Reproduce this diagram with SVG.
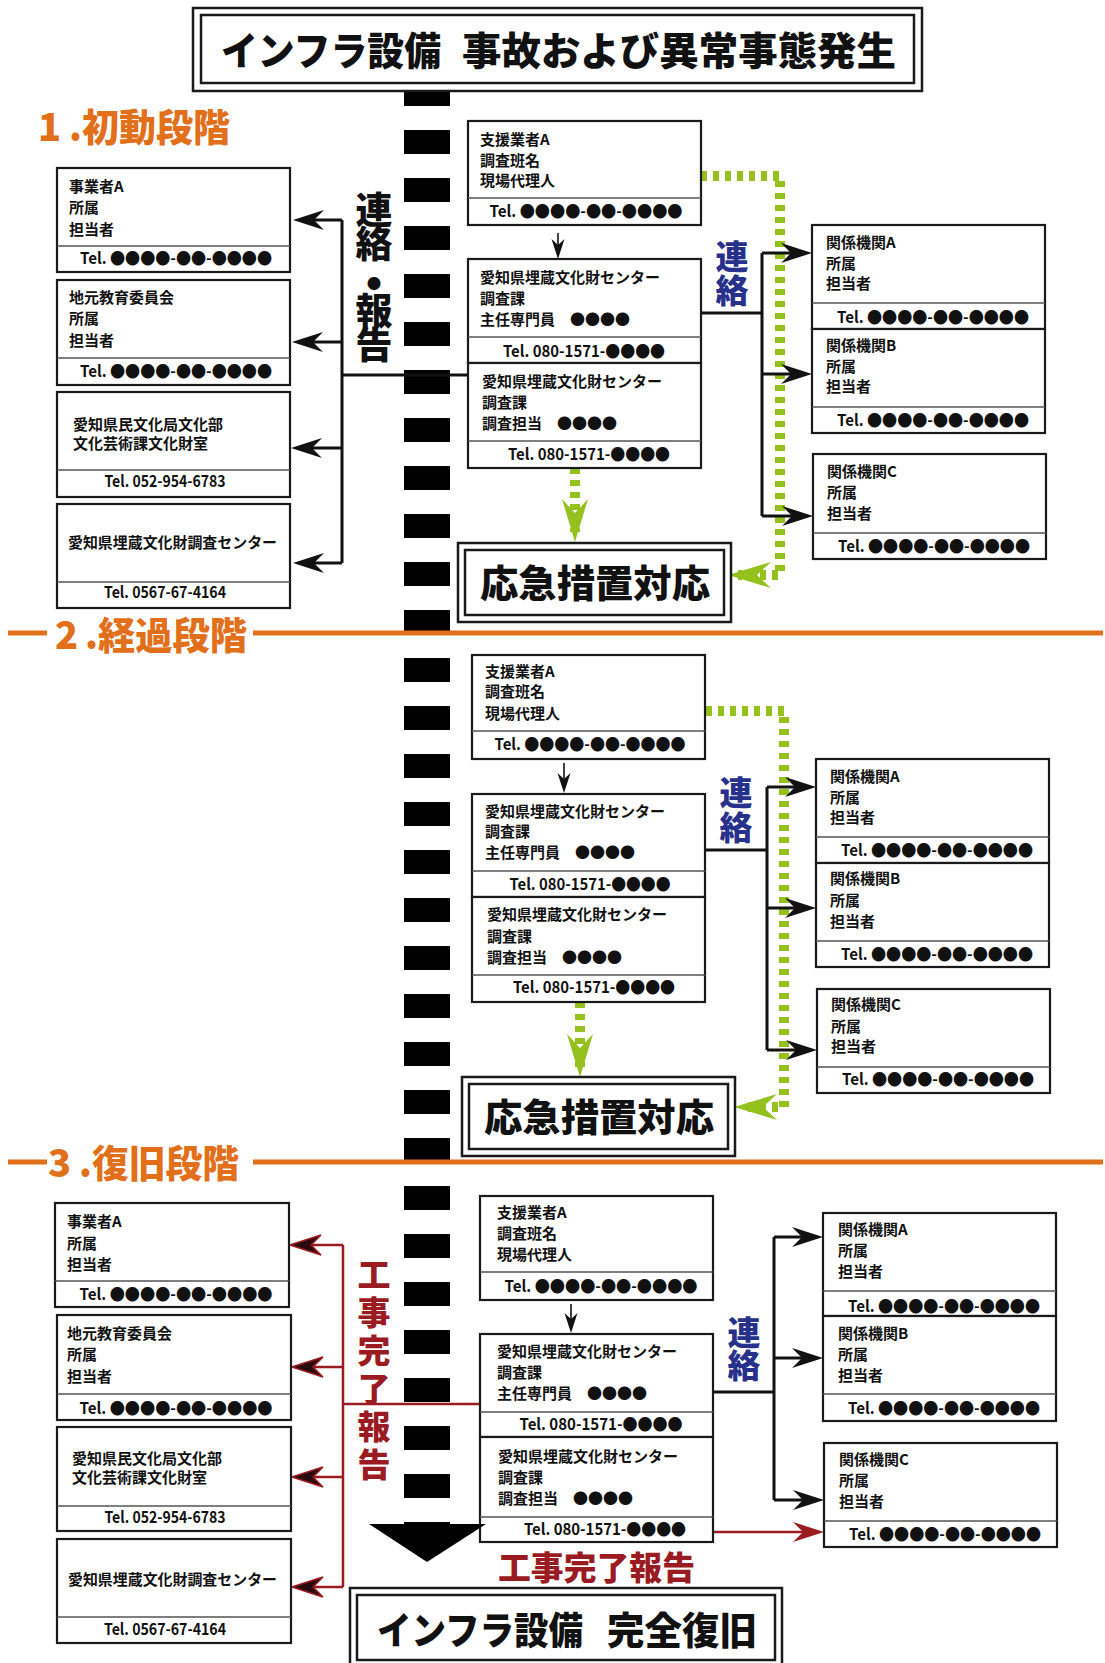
<svg xmlns="http://www.w3.org/2000/svg" width="1105" height="1663" viewBox="0 0 1105 1663">
<defs>
<style>
.box{fill:#fff;stroke:#1a1a1a;stroke-width:2.2}
.dv{stroke:#555;stroke-width:1.6}
.t{font-family:"Noto Sans CJK JP",sans-serif;font-weight:700;font-size:15px;fill:#111}
.tel{font-family:"Noto Sans CJK JP",sans-serif;font-weight:700;font-size:16px;fill:#111;text-anchor:middle}
.con{fill:none;stroke:#111;stroke-width:3}
.thin{fill:none;stroke:#111;stroke-width:1.6}
.red{fill:none;stroke:#9B1B23;stroke-width:2.5}
.grn{fill:none;stroke:#95C11F;stroke-width:10;stroke-dasharray:6 6}
.orl{stroke:#E2701A;stroke-width:5}
.orT{font-family:"Noto Sans CJK JP",sans-serif;font-weight:900;font-size:38px;fill:#E2701A}
.big{font-family:"Noto Sans CJK JP",sans-serif;font-weight:900;font-size:39px;fill:#111}
.vt{font-family:"Noto Sans CJK JP",sans-serif;font-weight:900;font-size:37px;fill:#111;writing-mode:vertical-rl}
.bl{font-family:"Noto Sans CJK JP",sans-serif;font-weight:900;font-size:33px;fill:#27308A;writing-mode:vertical-rl}
.rt{font-family:"Noto Sans CJK JP",sans-serif;font-weight:900;font-size:33px;fill:#9B1B23}
.rtv{font-family:"Noto Sans CJK JP",sans-serif;font-weight:900;font-size:33px;fill:#9B1B23;writing-mode:vertical-rl}
.frame{fill:#fff;stroke:#1a1a1a;stroke-width:2.5}
.frameI{fill:none;stroke:#1a1a1a;stroke-width:2.5}
</style>
<marker id="ab" viewBox="-34 -12 36 24" refX="-6" refY="0" markerWidth="36" markerHeight="24" markerUnits="userSpaceOnUse" orient="auto"><path d="M0,0 L-31,-10 L-21,0 L-31,10 Z" fill="#111"/></marker>
<marker id="as" viewBox="-22 -8 24 16" refX="-4" refY="0" markerWidth="24" markerHeight="16" markerUnits="userSpaceOnUse" orient="auto"><path d="M0,0 L-20,-6.5 L-14,0 L-20,6.5 Z" fill="#111"/></marker>
<marker id="ag" viewBox="-46 -15 48 30" refX="-10" refY="0" markerWidth="48" markerHeight="30" markerUnits="userSpaceOnUse" orient="auto"><path d="M0,0 L-43,-13 L-29,0 L-43,13 Z" fill="#95C11F"/></marker>
<marker id="ar" viewBox="-34 -12 36 24" refX="-6" refY="0" markerWidth="36" markerHeight="24" markerUnits="userSpaceOnUse" orient="auto"><path d="M0,0 L-31,-10 L-21,0 L-31,10 Z" fill="#2a0b0d" stroke="#9B1B23" stroke-width="1.5"/></marker>
<marker id="ar2" viewBox="-34 -12 36 24" refX="-6" refY="0" markerWidth="36" markerHeight="24" markerUnits="userSpaceOnUse" orient="auto"><path d="M0,0 L-31,-10 L-21,0 L-31,10 Z" fill="#9B1B23"/></marker>
</defs>
<rect width="1105" height="1663" fill="#fff"/>

<g id="flow-spine">
<line x1="427" y1="82" x2="427" y2="1546" stroke="#000" stroke-width="46" stroke-dasharray="24 24"/>
</g>

<g id="title-start">
<rect class="frame" x="193" y="8" width="729" height="83"/>
<rect class="frameI" x="201" y="15" width="713" height="68"/>
<text class="big" x="221" y="65" textLength="220" lengthAdjust="spacingAndGlyphs">インフラ設備</text>
<text class="big" x="462" y="65" textLength="434" lengthAdjust="spacingAndGlyphs">事故および異常事態発生</text>
</g>

<g id="section-labels">
<text class="orT" x="38" y="141">1</text>
<text class="orT" x="69" y="141" textLength="161" lengthAdjust="spacingAndGlyphs">.初動段階</text>
<line class="orl" x1="8" y1="633" x2="47" y2="633"/>
<line class="orl" x1="253" y1="633" x2="1103" y2="633"/>
<text class="orT" x="55" y="649">2</text>
<text class="orT" x="85" y="649" textLength="162" lengthAdjust="spacingAndGlyphs">.経過段階</text>
<line class="orl" x1="8" y1="1162" x2="47" y2="1162"/>
<line class="orl" x1="253" y1="1162" x2="1103" y2="1162"/>
<text class="orT" x="48" y="1177">3</text>
<text class="orT" x="79" y="1177" textLength="160" lengthAdjust="spacingAndGlyphs">.復旧段階</text>
</g>

<g id="connectors">
<!-- section 1 -->
<path class="grn" d="M701,176 H780 V575 H738" marker-end="url(#ag)"/>
<path class="grn" d="M575,468 V532" marker-end="url(#ag)"/>
<path class="con" d="M342,220 V563"/>
<path class="con" d="M342,220 H299" marker-end="url(#ab)"/>
<path class="con" d="M342,342 H298" marker-end="url(#ab)"/>
<path class="con" d="M342,448 H297" marker-end="url(#ab)"/>
<path class="con" d="M342,563 H299" marker-end="url(#ab)"/>
<path class="con" d="M342,375 H468"/>
<path class="thin" d="M558,233 V255" marker-end="url(#as)"/>
<path class="con" d="M701,313 H762"/>
<path class="con" d="M762,253 V516"/>
<path class="con" d="M762,253 H806" marker-end="url(#ab)"/>
<path class="con" d="M762,374 H806" marker-end="url(#ab)"/>
<path class="con" d="M762,516 H807" marker-end="url(#ab)"/>
<!-- section 2 -->
<path class="grn" d="M706,711 H784 V1107 H744" marker-end="url(#ag)"/>
<path class="grn" d="M580,1002 V1067" marker-end="url(#ag)"/>
<path class="thin" d="M564,763 V789" marker-end="url(#as)"/>
<path class="con" d="M706,850 H767"/>
<path class="con" d="M767,787 V1050"/>
<path class="con" d="M767,787 H810" marker-end="url(#ab)"/>
<path class="con" d="M767,908 H810" marker-end="url(#ab)"/>
<path class="con" d="M767,1050 H811" marker-end="url(#ab)"/>
<!-- section 3 -->
<path class="red" d="M343,1245 V1587"/>
<path class="red" d="M343,1245 H296" marker-end="url(#ar)"/>
<path class="red" d="M343,1367 H298" marker-end="url(#ar)"/>
<path class="red" d="M343,1477 H298" marker-end="url(#ar)"/>
<path class="red" d="M343,1587 H298" marker-end="url(#ar)"/>
<path class="red" d="M343,1404 H480"/>
<path class="thin" d="M571,1304 V1329" marker-end="url(#as)"/>
<path class="con" d="M713,1392 H774"/>
<path class="con" d="M774,1237 V1500"/>
<path class="con" d="M774,1237 H817" marker-end="url(#ab)"/>
<path class="con" d="M774,1358 H817" marker-end="url(#ab)"/>
<path class="con" d="M774,1500 H818" marker-end="url(#ab)"/>
<path class="red" d="M713,1532 H818" marker-end="url(#ar2)"/>
</g>

<g id="label-renraku-houkoku">
<text class="vt" x="374" y="191.5" style="letter-spacing:-3.25px">連絡<tspan style="font-size:46px;letter-spacing:-12.5px">・</tspan>報告</text>
</g>
<g id="label-renraku-1"><text class="bl" x="732" y="239.5" style="letter-spacing:1px">連絡</text></g>
<g id="label-renraku-2"><text class="bl" x="736" y="775.5" style="letter-spacing:2px">連絡</text></g>
<g id="label-renraku-3"><text class="bl" x="744" y="1315.5" style="letter-spacing:0px">連絡</text></g>
<g id="label-kanryo-vertical">
<text class="rtv" x="374" y="1258" style="letter-spacing:4.9px">工事完了報告</text>
</g>
<g id="label-kanryo"><text class="rt" x="498" y="1580" textLength="197" lengthAdjust="spacingAndGlyphs">工事完了報告</text></g>

<!-- Section 1 left -->
<g id="s1-jigyosha" transform="translate(57,168)">
<rect class="box" width="233" height="104"/><line class="dv" x1="0" y1="78" x2="233" y2="78"/>
<text class="t" x="12" y="24">事業者A</text><text class="t" x="12" y="45">所属</text><text class="t" x="12" y="67">担当者</text>
<text class="tel" x="119" y="96" textLength="192" lengthAdjust="spacingAndGlyphs">Tel. ●●●●-●●-●●●●</text>
</g>
<g id="s1-kyoiku" transform="translate(57,280)">
<rect class="box" width="233" height="105"/><line class="dv" x1="0" y1="78" x2="233" y2="78"/>
<text class="t" x="12" y="23">地元教育委員会</text><text class="t" x="12" y="44">所属</text><text class="t" x="12" y="66">担当者</text>
<text class="tel" x="119" y="97" textLength="192" lengthAdjust="spacingAndGlyphs">Tel. ●●●●-●●-●●●●</text>
</g>
<g id="s1-kenmin" transform="translate(57,392)">
<rect class="box" width="233" height="105"/><line class="dv" x1="0" y1="78" x2="233" y2="78"/>
<text class="t" x="16" y="38">愛知県民文化局文化部</text><text class="t" x="16" y="57">文化芸術課文化財室</text>
<text class="tel" x="108" y="95" textLength="121" lengthAdjust="spacingAndGlyphs">Tel. 052-954-6783</text>
</g>
<g id="s1-chosa-center" transform="translate(57,504)">
<rect class="box" width="233" height="104"/><line class="dv" x1="0" y1="78" x2="233" y2="78"/>
<text class="t" x="11" y="44" textLength="209" lengthAdjust="spacingAndGlyphs">愛知県埋蔵文化財調査センター</text>
<text class="tel" x="108" y="94" textLength="122" lengthAdjust="spacingAndGlyphs">Tel. 0567-67-4164</text>
</g>

<!-- Section 1 center -->
<g id="s1-shien" transform="translate(468,121)">
<rect class="box" width="233" height="104"/><line class="dv" x1="0" y1="77" x2="233" y2="77"/>
<text class="t" x="12" y="24">支援業者A</text><text class="t" x="12" y="45">調査班名</text><text class="t" x="12" y="65">現場代理人</text>
<text class="tel" x="118" y="96" textLength="193" lengthAdjust="spacingAndGlyphs">Tel. ●●●●-●●-●●●●</text>
</g>
<g id="s1-center-shunin" transform="translate(468,259)">
<rect class="box" width="233" height="104"/><line class="dv" x1="0" y1="78" x2="233" y2="78"/>
<text class="t" x="12" y="24">愛知県埋蔵文化財センター</text><text class="t" x="12" y="45">調査課</text><text class="t" x="12" y="66">主任専門員　●●●●</text>
<text class="tel" x="116" y="98" textLength="162" lengthAdjust="spacingAndGlyphs">Tel. 080-1571-●●●●</text>
</g>
<g id="s1-center-tanto" transform="translate(468,363)">
<rect class="box" width="233" height="105"/><line class="dv" x1="0" y1="78" x2="233" y2="78"/>
<text class="t" x="14" y="24">愛知県埋蔵文化財センター</text><text class="t" x="14" y="45">調査課</text><text class="t" x="14" y="66">調査担当　●●●●</text>
<text class="tel" x="121" y="97" textLength="162" lengthAdjust="spacingAndGlyphs">Tel. 080-1571-●●●●</text>
</g>
<g id="s1-emergency">
<rect class="frame" x="458" y="543" width="273" height="79"/>
<rect class="frameI" x="465" y="550" width="259" height="65"/>
<text class="big" x="480" y="597" style="font-size:38px" textLength="230" lengthAdjust="spacingAndGlyphs">応急措置対応</text>
</g>

<!-- Section 1 right -->
<g id="s1-kikan-a" transform="translate(812,225)">
<rect class="box" width="233" height="104"/><line class="dv" x1="0" y1="78" x2="233" y2="78"/>
<text class="t" x="14" y="23">関係機関A</text><text class="t" x="14" y="44">所属</text><text class="t" x="14" y="64">担当者</text>
<text class="tel" x="121" y="98" textLength="192" lengthAdjust="spacingAndGlyphs">Tel. ●●●●-●●-●●●●</text>
</g>
<g id="s1-kikan-b" transform="translate(812,329)">
<rect class="box" width="233" height="104"/><line class="dv" x1="0" y1="78" x2="233" y2="78"/>
<text class="t" x="14" y="22">関係機関B</text><text class="t" x="14" y="43">所属</text><text class="t" x="14" y="63">担当者</text>
<text class="tel" x="121" y="97" textLength="192" lengthAdjust="spacingAndGlyphs">Tel. ●●●●-●●-●●●●</text>
</g>
<g id="s1-kikan-c" transform="translate(813,454)">
<rect class="box" width="233" height="105"/><line class="dv" x1="0" y1="79" x2="233" y2="79"/>
<text class="t" x="14" y="23">関係機関C</text><text class="t" x="14" y="44">所属</text><text class="t" x="14" y="65">担当者</text>
<text class="tel" x="121" y="98" textLength="192" lengthAdjust="spacingAndGlyphs">Tel. ●●●●-●●-●●●●</text>
</g>

<!-- Section 2 -->
<g id="s2-shien" transform="translate(472,655)">
<rect class="box" width="233" height="104"/><line class="dv" x1="0" y1="76" x2="233" y2="76"/>
<text class="t" x="13" y="22">支援業者A</text><text class="t" x="13" y="42">調査班名</text><text class="t" x="13" y="64">現場代理人</text>
<text class="tel" x="118" y="95" textLength="191" lengthAdjust="spacingAndGlyphs">Tel. ●●●●-●●-●●●●</text>
</g>
<g id="s2-center-shunin" transform="translate(472,794)">
<rect class="box" width="233" height="103"/><line class="dv" x1="0" y1="77" x2="233" y2="77"/>
<text class="t" x="13" y="23">愛知県埋蔵文化財センター</text><text class="t" x="13" y="43">調査課</text><text class="t" x="13" y="64">主任専門員　●●●●</text>
<text class="tel" x="118" y="96" textLength="161" lengthAdjust="spacingAndGlyphs">Tel. 080-1571-●●●●</text>
</g>
<g id="s2-center-tanto" transform="translate(472,897)">
<rect class="box" width="233" height="105"/><line class="dv" x1="0" y1="78" x2="233" y2="78"/>
<text class="t" x="15" y="23">愛知県埋蔵文化財センター</text><text class="t" x="15" y="45">調査課</text><text class="t" x="15" y="66">調査担当　●●●●</text>
<text class="tel" x="122" y="96" textLength="162" lengthAdjust="spacingAndGlyphs">Tel. 080-1571-●●●●</text>
</g>
<g id="s2-emergency">
<rect class="frame" x="462" y="1077" width="273" height="79"/>
<rect class="frameI" x="469" y="1084" width="259" height="65"/>
<text class="big" x="484" y="1131" style="font-size:38px" textLength="230" lengthAdjust="spacingAndGlyphs">応急措置対応</text>
</g>
<g id="s2-kikan-a" transform="translate(816,759)">
<rect class="box" width="233" height="104"/><line class="dv" x1="0" y1="78" x2="233" y2="78"/>
<text class="t" x="14" y="23">関係機関A</text><text class="t" x="14" y="44">所属</text><text class="t" x="14" y="64">担当者</text>
<text class="tel" x="121" y="97" textLength="192" lengthAdjust="spacingAndGlyphs">Tel. ●●●●-●●-●●●●</text>
</g>
<g id="s2-kikan-b" transform="translate(816,863)">
<rect class="box" width="233" height="104"/><line class="dv" x1="0" y1="78" x2="233" y2="78"/>
<text class="t" x="14" y="21">関係機関B</text><text class="t" x="14" y="43">所属</text><text class="t" x="14" y="64">担当者</text>
<text class="tel" x="121" y="97" textLength="192" lengthAdjust="spacingAndGlyphs">Tel. ●●●●-●●-●●●●</text>
</g>
<g id="s2-kikan-c" transform="translate(817,989)">
<rect class="box" width="233" height="104"/><line class="dv" x1="0" y1="78" x2="233" y2="78"/>
<text class="t" x="14" y="21">関係機関C</text><text class="t" x="14" y="43">所属</text><text class="t" x="14" y="63">担当者</text>
<text class="tel" x="121" y="96" textLength="192" lengthAdjust="spacingAndGlyphs">Tel. ●●●●-●●-●●●●</text>
</g>

<!-- Section 3 left -->
<g id="s3-jigyosha" transform="translate(55,1203)">
<rect class="box" width="234" height="104"/><line class="dv" x1="0" y1="78" x2="234" y2="78"/>
<text class="t" x="12" y="24">事業者A</text><text class="t" x="12" y="46">所属</text><text class="t" x="12" y="67">担当者</text>
<text class="tel" x="121" y="97" textLength="193" lengthAdjust="spacingAndGlyphs">Tel. ●●●●-●●-●●●●</text>
</g>
<g id="s3-kyoiku" transform="translate(57,1315)">
<rect class="box" width="234" height="105"/><line class="dv" x1="0" y1="79" x2="234" y2="79"/>
<text class="t" x="10" y="24">地元教育委員会</text><text class="t" x="10" y="45">所属</text><text class="t" x="10" y="67">担当者</text>
<text class="tel" x="119" y="99" textLength="193" lengthAdjust="spacingAndGlyphs">Tel. ●●●●-●●-●●●●</text>
</g>
<g id="s3-kenmin" transform="translate(57,1427)">
<rect class="box" width="234" height="104"/><line class="dv" x1="0" y1="79" x2="234" y2="79"/>
<text class="t" x="15" y="37">愛知県民文化局文化部</text><text class="t" x="15" y="56">文化芸術課文化財室</text>
<text class="tel" x="108" y="96" textLength="121" lengthAdjust="spacingAndGlyphs">Tel. 052-954-6783</text>
</g>
<g id="s3-chosa-center" transform="translate(57,1539)">
<rect class="box" width="234" height="104"/><line class="dv" x1="0" y1="78" x2="234" y2="78"/>
<text class="t" x="11" y="46" textLength="209" lengthAdjust="spacingAndGlyphs">愛知県埋蔵文化財調査センター</text>
<text class="tel" x="108" y="96" textLength="122" lengthAdjust="spacingAndGlyphs">Tel. 0567-67-4164</text>
</g>

<!-- Section 3 center -->
<g id="s3-shien" transform="translate(480,1196)">
<rect class="box" width="233" height="104"/><line class="dv" x1="0" y1="76" x2="233" y2="76"/>
<text class="t" x="17" y="22">支援業者A</text><text class="t" x="17" y="43">調査班名</text><text class="t" x="17" y="64">現場代理人</text>
<text class="tel" x="121" y="96" textLength="193" lengthAdjust="spacingAndGlyphs">Tel. ●●●●-●●-●●●●</text>
</g>
<g id="s3-center-shunin" transform="translate(480,1334)">
<rect class="box" width="233" height="103"/><line class="dv" x1="0" y1="78" x2="233" y2="78"/>
<text class="t" x="17" y="23">愛知県埋蔵文化財センター</text><text class="t" x="17" y="44">調査課</text><text class="t" x="17" y="65">主任専門員　●●●●</text>
<text class="tel" x="121" y="96" textLength="163" lengthAdjust="spacingAndGlyphs">Tel. 080-1571-●●●●</text>
</g>
<g id="s3-center-tanto" transform="translate(480,1437)">
<rect class="box" width="233" height="105"/><line class="dv" x1="0" y1="80" x2="233" y2="80"/>
<text class="t" x="18" y="25">愛知県埋蔵文化財センター</text><text class="t" x="18" y="46">調査課</text><text class="t" x="18" y="67">調査担当　●●●●</text>
<text class="tel" x="125" y="98" textLength="162" lengthAdjust="spacingAndGlyphs">Tel. 080-1571-●●●●</text>
</g>

<!-- Section 3 right -->
<g id="s3-kikan-a" transform="translate(823,1213)">
<rect class="box" width="233" height="103"/><line class="dv" x1="0" y1="78" x2="233" y2="78"/>
<text class="t" x="15" y="22">関係機関A</text><text class="t" x="15" y="43">所属</text><text class="t" x="15" y="64">担当者</text>
<text class="tel" x="121" y="99" textLength="192" lengthAdjust="spacingAndGlyphs">Tel. ●●●●-●●-●●●●</text>
</g>
<g id="s3-kikan-b" transform="translate(823,1316)">
<rect class="box" width="233" height="105"/><line class="dv" x1="0" y1="78" x2="233" y2="78"/>
<text class="t" x="15" y="23">関係機関B</text><text class="t" x="15" y="44">所属</text><text class="t" x="15" y="65">担当者</text>
<text class="tel" x="121" y="98" textLength="192" lengthAdjust="spacingAndGlyphs">Tel. ●●●●-●●-●●●●</text>
</g>
<g id="s3-kikan-c" transform="translate(824,1443)">
<rect class="box" width="233" height="104"/><line class="dv" x1="0" y1="78" x2="233" y2="78"/>
<text class="t" x="15" y="22">関係機関C</text><text class="t" x="15" y="43">所属</text><text class="t" x="15" y="64">担当者</text>
<text class="tel" x="121" y="97" textLength="192" lengthAdjust="spacingAndGlyphs">Tel. ●●●●-●●-●●●●</text>
</g>

<g id="flow-arrowhead"><path d="M369,1524 L486,1524 L427,1562 Z" fill="#000"/></g>

<g id="title-end">
<rect class="frame" x="350" y="1588" width="432" height="90"/>
<rect class="frameI" x="357" y="1595" width="418" height="65"/>
<text class="big" x="377" y="1644" style="font-size:38px" textLength="206" lengthAdjust="spacingAndGlyphs">インフラ設備</text>
<text class="big" x="607" y="1644" style="font-size:38px" textLength="150" lengthAdjust="spacingAndGlyphs">完全復旧</text>
</g>
</svg>
